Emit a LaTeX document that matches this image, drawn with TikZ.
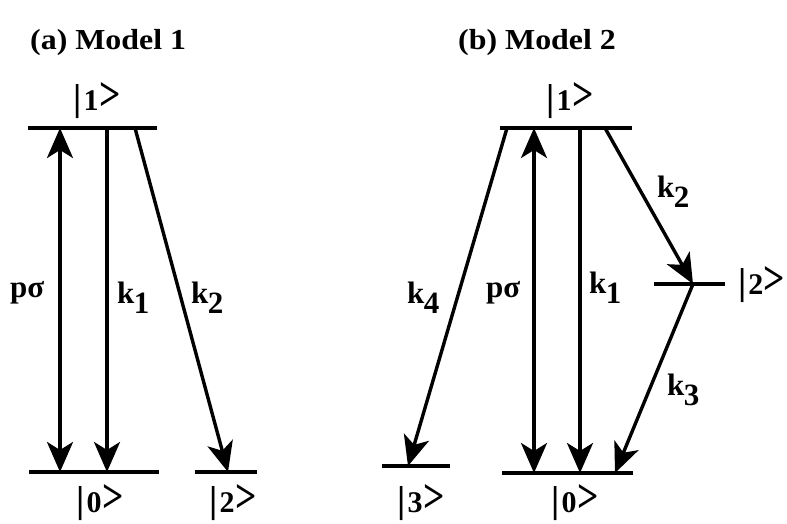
\documentclass[tikz,border=0pt]{standalone}
\usepackage{fontspec}
\setmainfont{Liberation Serif}
\usetikzlibrary{arrows.meta}
\newcommand\ksub[2]{#1\kern-0.5pt\raisebox{-10pt}{#2}}
\newcommand\ket[1]{\scalebox{1.25}[1.25]{|}\kern2pt#1\kern0.5pt\scalebox{1.25}[1.6]{>}}
\begin{document}
\begin{tikzpicture}[x=1pt,y=-1pt,
  lev/.style={line width=4.5pt},
  tip/.tip={Stealth[length=30pt,width=26pt,inset=8pt]},
  tr/.style={line width=3.4pt,-tip},
  dbl/.style={line width=3.4pt,tip-tip},
  lbl/.style={font=\fontsize{31}{33}\bfseries\selectfont, inner sep=0pt},
  ketl/.style={font=\fontsize{30}{32}\bfseries\selectfont, inner sep=0pt},
  ttl/.style={font=\fontsize{29}{32}\bfseries\selectfont, inner sep=0pt, anchor=west}]
\useasboundingbox (0,0) rectangle (787,523);
% titles
\node[ttl] (ta) at (30,43) {\scalebox{1.1}[1]{(a) Model 1}};
\node[ttl] (tb) at (458,43) {\scalebox{1.1}[1]{(b) Model 2}};
% ---- Model 1 levels
\coordinate (a1L) at (28,128); \coordinate (a1R) at (157,128);
\coordinate (a0L) at (29,472); \coordinate (a0R) at (159,472);
\coordinate (a2L) at (195,472); \coordinate (a2R) at (257,472);
\draw[lev] (a1L) -- (a1R);
\draw[lev] (a0L) -- (a0R);
\draw[lev] (a2L) -- (a2R);
\coordinate (aps1) at (60,128); \coordinate (aps0) at (60,472);
\coordinate (ak11) at (107,128); \coordinate (ak10) at (107,472);
\coordinate (ak21) at (135,128); \coordinate (ak22) at (228,472);
\draw[dbl] (aps1) -- (aps0);
\draw[tr] (ak11) -- (ak10);
\draw[tr] (ak21) -- (ak22);
\node[ketl] (ka1) at (97,101) {\ket{1}};
\node[ketl] (ka0) at (100,503) {\ket{0}};
\node[ketl] (ka2) at (233,503) {\ket{2}};
\node[lbl,anchor=west] (lapa) at (10,293) {pσ};
\node[lbl,anchor=west] (lak1) at (117,298) {\ksub{k}{1}};
\node[lbl,anchor=west] (lak2) at (191,298) {\ksub{k}{2}};
% ---- Model 2 levels
\coordinate (b1L) at (500,128); \coordinate (b1R) at (632,128);
\coordinate (b0L) at (502,473); \coordinate (b0R) at (633,473);
\coordinate (b3L) at (382,466); \coordinate (b3R) at (450,466);
\coordinate (b2L) at (654,284); \coordinate (b2R) at (725,284);
\draw[lev] (b1L) -- (b1R);
\draw[lev] (b0L) -- (b0R);
\draw[lev] (b3L) -- (b3R);
\draw[lev] (b2L) -- (b2R);
\coordinate (bps1) at (534,128); \coordinate (bps0) at (534,473);
\coordinate (bk11) at (580,128); \coordinate (bk10) at (580,473);
\coordinate (bk41) at (507,128); \coordinate (bk43) at (408,466);
\coordinate (bk21) at (605,128); \coordinate (bk22) at (693,284);
\coordinate (bk30) at (615,473);
\draw[dbl] (bps1) -- (bps0);
\draw[tr] (bk11) -- (bk10);
\draw[tr] (bk41) -- (bk43);
\draw[tr] (bk21) -- (bk22);
\draw[tr] (bk22) -- (bk30);
\node[ketl] (kb1) at (570,101) {\ket{1}};
\node[ketl] (kb0) at (575,503) {\ket{0}};
\node[ketl] (kb3) at (421,503) {\ket{3}};
\node[ketl,anchor=west] (kb2) at (738,285) {\ket{2}};
\node[lbl,anchor=west] (lbpa) at (486,293) {pσ};
\node[lbl,anchor=west] (lbk1) at (589,288) {\ksub{k}{1}};
\node[lbl,anchor=west] (lbk4) at (407,298) {\ksub{k}{4}};
\node[lbl,anchor=west] (lbk2) at (657,192) {\ksub{k}{2}};
\node[lbl,anchor=west] (lbk3) at (667,390) {\ksub{k}{3}};
\end{tikzpicture}
\end{document}
